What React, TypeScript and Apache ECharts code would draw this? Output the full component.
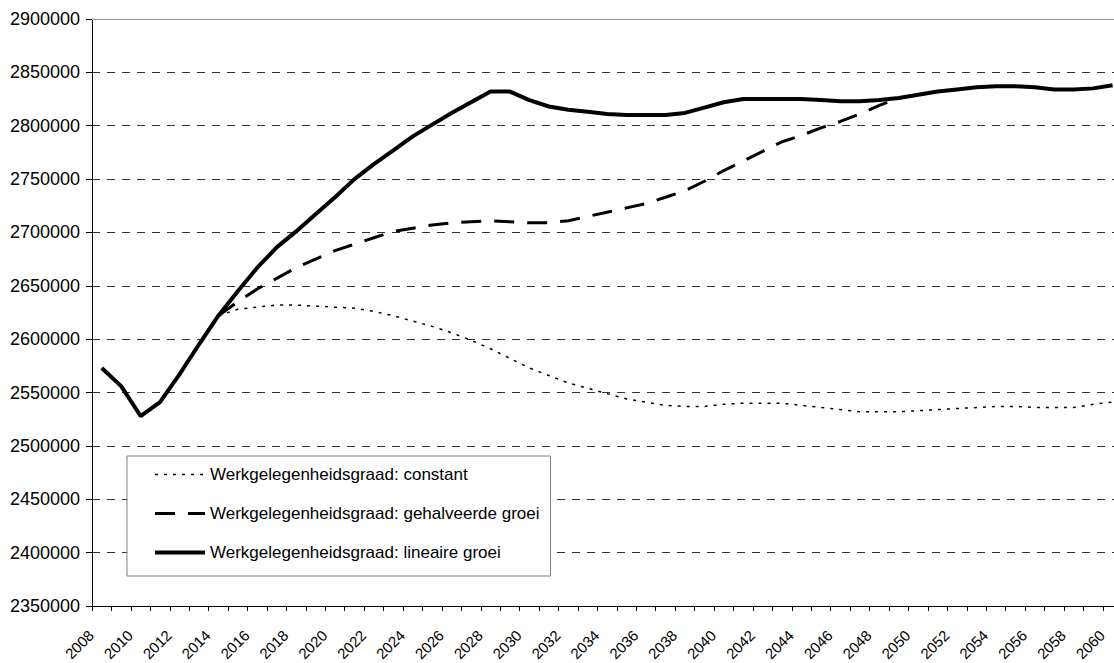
import React, { useEffect, useRef } from "react";
import * as echarts from "echarts";

const years = [
  "2008", "2009", "2010", "2011", "2012", "2013", "2014", "2015", "2016", "2017",
  "2018", "2019", "2020", "2021", "2022", "2023", "2024", "2025", "2026", "2027",
  "2028", "2029", "2030", "2031", "2032", "2033", "2034", "2035", "2036", "2037",
  "2038", "2039", "2040", "2041", "2042", "2043", "2044", "2045", "2046", "2047",
  "2048", "2049", "2050", "2051", "2052", "2053", "2054", "2055", "2056", "2057",
  "2058", "2059", "2060",
];

const seriesNames = [
  "Werkgelegenheidsgraad: constant",
  "Werkgelegenheidsgraad: gehalveerde groei",
  "Werkgelegenheidsgraad: lineaire groei",
];

// Werkgelegenheidsgraad: constant
const constantValues: (number | null)[] = [
  null, null, null, null, null, null,
  2622000, 2628000, 2630000, 2632000, 2632000, 2631000, 2630000, 2629000, 2626000, 2622000,
  2617000, 2612000, 2606000, 2599000, 2591000, 2582000, 2573000, 2566000, 2559000, 2554000,
  2549000, 2544000, 2541000, 2538000, 2537000, 2537000, 2539000, 2540000, 2540000, 2540000,
  2538000, 2536000, 2534000, 2532000, 2532000, 2532000, 2533000, 2534000, 2535000, 2536000,
  2537000, 2537000, 2536000, 2536000, 2536000, 2539000, 2541000,
];

// Werkgelegenheidsgraad: gehalveerde groei
const halvedValues: (number | null)[] = [
  null, null, null, null, null, null,
  2622000, 2635000, 2647000, 2657000, 2667000, 2675000, 2683000, 2689000, 2695000, 2701000,
  2704000, 2707000, 2709000, 2710000, 2711000, 2710000, 2709000, 2709000, 2711000, 2715000,
  2719000, 2723000, 2727000, 2733000, 2739000, 2748000, 2758000, 2767000, 2776000, 2785000,
  2791000, 2798000, 2804000, 2811000, 2819000, 2826000,
];

// Werkgelegenheidsgraad: lineaire groei
const linearValues: number[] = [
  2573000, 2556000, 2528000, 2541000, 2567000, 2595000, 2622000, 2645000, 2667000, 2686000,
  2701000, 2717000, 2733000, 2750000, 2764000, 2777000, 2790000, 2801000, 2812000, 2822000,
  2832000, 2832000, 2824000, 2818000, 2815000, 2813000, 2811000, 2810000, 2810000, 2810000,
  2812000, 2817000, 2822000, 2825000, 2825000, 2825000, 2825000, 2824000, 2823000, 2823000,
  2824000, 2826000, 2829000, 2832000, 2834000, 2836000, 2837000, 2837000, 2836000, 2834000,
  2834000, 2835000, 2838000,
];

const yMin = 2350000;
const yMax = 2900000;
const yStep = 50000;

const dottedStyle = { color: "#000", width: 1.5, type: [3, 6] as number[] };
const dashedStyle = { color: "#000", width: 3, type: [20, 13] as number[] };
const solidStyle = { color: "#000", width: 4, type: "solid" };

export default function App() {
  const ref = useRef<HTMLDivElement>(null);

  useEffect(() => {
    if (!ref.current) return;
    const chart = echarts.init(ref.current, undefined, { renderer: "svg" });
    const font = "'Liberation Sans', Arial, sans-serif";
    chart.setOption({
      animation: false,
      backgroundColor: "#ffffff",
      textStyle: { fontFamily: font },
      grid: {
        left: 92,
        top: 19,
        right: 7.7,
        bottom: 57,
        containLabel: false,
        outerBoundsMode: "none",
      },
      xAxis: {
        type: "category",
        data: years,
        boundaryGap: true,
        axisLine: { show: true, lineStyle: { color: "#000", width: 1 } },
        axisTick: { show: true, interval: 0, length: 5, lineStyle: { color: "#000" } },
        axisLabel: {
          interval: 1,
          rotate: 45,
          margin: 16,
          fontSize: 15,
          padding: [0, 15, 0, 0],
          color: "#000",
          fontFamily: font,
        },
        splitLine: { show: false },
      },
      yAxis: {
        type: "value",
        min: yMin,
        max: yMax,
        interval: yStep,
        axisLine: { show: true, lineStyle: { color: "#000", width: 1 } },
        axisTick: { show: true, length: 6, lineStyle: { color: "#000" } },
        axisLabel: {
          margin: 12,
          fontSize: 18,
          color: "#000",
          fontFamily: font,
          formatter: (v: number) => String(v),
        },
        splitLine: {
          show: true,
          lineStyle: { color: "#333", width: 1, type: [8, 7] },
        },
      },
      legend: {
        orient: "vertical",
        left: 127,
        top: 456,
        padding: [10, 11, 15, 26],
        itemWidth: 50,
        itemHeight: 20,
        itemGap: 22,
        borderColor: "#808080",
        borderWidth: 1,
        backgroundColor: "#ffffff",
        itemStyle: { opacity: 0, borderWidth: 0 },
        textStyle: { fontSize: 17, color: "#000", fontFamily: font },
        data: [
          { name: seriesNames[0], lineStyle: dottedStyle },
          { name: seriesNames[1], lineStyle: dashedStyle },
          { name: seriesNames[2], lineStyle: solidStyle },
        ],
      },
      series: [
        {
          name: seriesNames[0],
          type: "line",
          data: constantValues,
          symbol: "none",
          lineStyle: dottedStyle,
          itemStyle: { color: "#000" },
        },
        {
          name: seriesNames[1],
          type: "line",
          data: halvedValues,
          symbol: "none",
          lineStyle: dashedStyle,
          itemStyle: { color: "#000" },
        },
        {
          name: seriesNames[2],
          type: "line",
          data: linearValues,
          symbol: "none",
          lineStyle: solidStyle,
          itemStyle: { color: "#000" },
          markLine: {
            silent: true,
            symbol: ["none", "none"],
            label: { show: false },
            lineStyle: { color: "#999", width: 1, type: "solid" },
            data: [{ yAxis: yMax }],
          },
        },
      ],
    });
    return () => chart.dispose();
  }, []);

  return (
    <div
      style={{
        position: "absolute",
        left: 0,
        top: 0,
        width: 1114,
        height: 663,
        overflow: "hidden",
        background: "#fff",
      }}
    >
      <div ref={ref} style={{ width: 1130, height: 663 }} />
    </div>
  );
}
